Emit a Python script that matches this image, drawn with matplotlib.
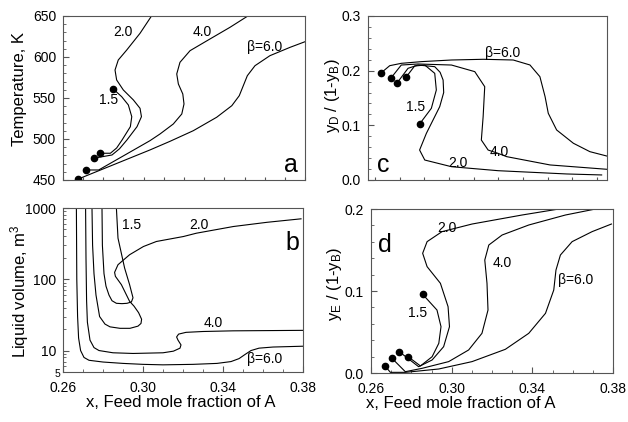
import numpy as np
import matplotlib
matplotlib.use('Agg')
import matplotlib.pyplot as plt
from matplotlib.ticker import MultipleLocator, FixedLocator, LogLocator, NullFormatter, FormatStrFormatter

plt.rcParams['font.family'] = ['Liberation Sans', 'DejaVu Sans']
plt.rcParams['mathtext.fontset'] = 'custom'
plt.rcParams['mathtext.rm'] = 'Liberation Sans'
plt.rcParams['mathtext.it'] = 'Liberation Sans:italic'

# panel a: temperature vs feed fraction
a_x_15 = [0.2785, 0.2835, 0.2866, 0.2893, 0.2934, 0.2941, 0.2924, 0.2891, 0.2849]
a_T_15 = [482.6, 482.6, 489.0, 498.8, 515.0, 527.2, 541.5, 551.6, 561.0]
a_x_20 = [0.2752, 0.2843, 0.2880, 0.2917, 0.2967, 0.2989, 0.2982, 0.2949, 0.2899,
          0.2866, 0.2858, 0.2874, 0.2916, 0.2982, 0.3040]
a_T_20 = [476.5, 480.5, 488.0, 498.8, 515.0, 527.2, 537.4, 547.6, 559.8,
          572.0, 584.1, 596.3, 608.5, 628.9, 650.4]
a_x_40 = [0.2714, 0.2777, 0.3031, 0.3081, 0.3147, 0.3189, 0.3200, 0.3194, 0.3172,
          0.3164, 0.3180, 0.3230, 0.3329, 0.3428, 0.3519]
a_T_40 = [462.2, 462.2, 497.9, 506.1, 518.3, 530.5, 542.7, 554.9, 567.1,
          579.3, 593.5, 607.7, 622.0, 636.2, 650.4]
a_x_60 = [0.2673, 0.3031, 0.3131, 0.3246, 0.3362, 0.3437, 0.3474, 0.3494, 0.3514,
          0.3552, 0.3626, 0.3726, 0.3805]
a_T_60 = [450.9, 486.6, 497.2, 510.1, 526.5, 540.6, 552.8, 565.0, 577.2,
          589.4, 601.6, 611.8, 619.1]

# panel b: liquid volume
b_x_15 = [0.2795, 0.2797, 0.2805, 0.2815, 0.2830, 0.2845, 0.2867, 0.2895, 0.2920,
          0.2942, 0.2950, 0.2933, 0.2908, 0.2875, 0.2867]
b_v_15 = [1000, 300, 120, 80, 60, 50, 46, 45.5, 46, 48, 55, 84, 144, 378, 1000]
b_x_20 = [0.2745, 0.2748, 0.2755, 0.2765, 0.2783, 0.2810, 0.2835, 0.2885, 0.2935,
          0.2975, 0.2990, 0.2993, 0.2978, 0.2955, 0.2933, 0.2892, 0.2862, 0.2858,
          0.2875, 0.2933, 0.3002, 0.3067, 0.3202, 0.3267, 0.3452, 0.3620, 0.3790]
b_v_20 = [1000, 300, 120, 60, 30, 23.5, 21.5, 20.5, 20.5,
          22, 24, 27.5, 34, 42, 49, 84, 110, 125,
          160, 221, 288, 339, 398, 443, 550, 630, 705]
b_x_40 = [0.2713, 0.2715, 0.2718, 0.2722, 0.2735, 0.2755, 0.2780, 0.2850, 0.2950,
          0.3100, 0.3152, 0.3185, 0.3190, 0.3175, 0.3168, 0.3178, 0.3215, 0.3300,
          0.3450, 0.3800]
b_v_40 = [1000, 200, 50, 25, 14, 11, 10, 9.3, 9.1, 9.3, 9.8, 10.8, 12, 14, 15.5,
          17, 18, 18.5, 18.9, 19.2]
b_x_60 = [0.2667, 0.2669, 0.2673, 0.2678, 0.2688, 0.2705, 0.2730, 0.2800, 0.2900,
          0.3000, 0.3100, 0.3250, 0.3370, 0.3440, 0.3480, 0.3510, 0.3540, 0.3580,
          0.3650, 0.3800]
b_v_60 = [1000, 100, 30, 15, 10, 8, 7.3, 6.9, 6.6, 6.4, 6.3, 6.4, 6.6, 7.0, 7.7,
          8.8, 10, 10.8, 11.2, 11.5]

# panel c: yD/(1-yB)
c_x_15 = [0.2793, 0.2834, 0.2885, 0.2935, 0.2943, 0.2918, 0.2859]
c_y_15 = [0.1890, 0.2085, 0.2103, 0.1951, 0.1646, 0.1311, 0.1024]
c_x_20 = [0.2747, 0.2801, 0.2851, 0.2935, 0.2962, 0.2977, 0.2980, 0.2960, 0.2893,
          0.2859, 0.2885, 0.3019, 0.3253, 0.3598, 0.3773]
c_y_20 = [0.1780, 0.2043, 0.2103, 0.2073, 0.1970, 0.1829, 0.1600, 0.1341, 0.0853,
          0.0548, 0.0365, 0.0243, 0.0170, 0.0110, 0.0092]
c_x_40 = [0.2714, 0.2767, 0.2851, 0.3019, 0.3136, 0.3186, 0.3178, 0.3169, 0.3203,
          0.3253, 0.3296, 0.3514, 0.3798]
c_y_40 = [0.1859, 0.2103, 0.2122, 0.2103, 0.1982, 0.1707, 0.1158, 0.0731, 0.0548,
          0.0487, 0.0427, 0.0275, 0.0196]
c_x_60 = [0.2667, 0.2709, 0.2767, 0.2868, 0.3019, 0.3179, 0.3329, 0.3413, 0.3463,
          0.3489, 0.3505, 0.3547, 0.3631, 0.3714, 0.3798]
c_y_60 = [0.1963, 0.2091, 0.2134, 0.2165, 0.2195, 0.2208, 0.2195, 0.2104, 0.1890,
          0.1524, 0.1220, 0.0915, 0.0672, 0.0518, 0.0439]

# panel d: yE/(1-yB)
d_x_15 = [0.2784, 0.2845, 0.2903, 0.2936, 0.2947, 0.2927, 0.2856]
d_y_15 = [0.0199, 0.0086, 0.0199, 0.0362, 0.0565, 0.0768, 0.0960]
d_x_20 = [0.2740, 0.2836, 0.2903, 0.2960, 0.2989, 0.2982, 0.2944, 0.2878, 0.2856,
          0.2878, 0.2952, 0.3101, 0.3349, 0.3531]
d_y_20 = [0.0260, 0.0077, 0.0159, 0.0321, 0.0565, 0.0809, 0.1094, 0.1297, 0.1460,
          0.1602, 0.1724, 0.1817, 0.1927, 0.2000]
d_x_40 = [0.2704, 0.2770, 0.2853, 0.2985, 0.3084, 0.3150, 0.3180, 0.3175, 0.3164,
          0.3184, 0.3250, 0.3382, 0.3564, 0.3729]
d_y_40 = [0.0179, 0.0016, 0.0057, 0.0139, 0.0281, 0.0484, 0.0768, 0.1094, 0.1378,
          0.1561, 0.1683, 0.1805, 0.1927, 0.2008]
d_x_60 = [0.2668, 0.2696, 0.2770, 0.2936, 0.3101, 0.3266, 0.3382, 0.3465, 0.3506,
          0.3517, 0.3539, 0.3597, 0.3696, 0.3792]
d_y_60 = [0.0090, 0.0008, 0.0008, 0.0049, 0.0139, 0.0289, 0.0484, 0.0728, 0.1012,
          0.1256, 0.1439, 0.1602, 0.1724, 0.1817]

curve_names = ['1.5', '2.0', '4.0', 'β=6.0']
a_lab = [(0.2828, 547.6), (0.2898, 631), (0.3292, 631), (0.3602, 612.6)]
b_lab = [(0.2943, 580), (0.3280, 580), (0.3352, 24.7), (0.3610, 7.6)]
c_lab = [(0.2841, 0.1336), (0.3049, 0.0306), (0.3258, 0.0518), (0.3278, 0.2329)]
d_lab = [(0.2831, 0.0728), (0.2977, 0.1765), (0.3253, 0.1346), (0.3613, 0.1134)]

xlabel = 'x, Feed mole fraction of A'
lw = 0.8
fig = plt.figure(figsize=(6.28, 4.22), dpi=100)
ax_a = fig.add_axes([0.1003, 0.5735, 0.3854, 0.3886])
ax_b = fig.add_axes([0.1003, 0.1185, 0.3822, 0.3886])
ax_c = fig.add_axes([0.5860, 0.5735, 0.3806, 0.3886])
ax_d = fig.add_axes([0.5908, 0.1161, 0.3854, 0.3886])


def style(ax):
    for s in ax.spines.values():
        s.set_color('#555555')
        s.set_linewidth(0.8)
    ax.tick_params(which='both', direction='in', top=False, right=False,
                   labelsize=10, color='#555555', pad=5)
    ax.tick_params(axis='x', pad=6.5)
    ax.tick_params(which='major', length=4)
    ax.tick_params(which='minor', length=2)


def draw(ax, series, labels, dots_top=False):
    for (x, y) in series:
        ax.plot(x, y, color='black', lw=lw)
        ax.plot(x[0], y[0], 'o', color='black', ms=4.5)
    if dots_top:
        x, y = series[0]
        ax.plot(x[-1], y[-1], 'o', color='black', ms=4.5)
    for name, (lx, ly) in zip(curve_names, labels):
        ax.text(lx, ly, name, fontsize=10, ha='center', va='center')


# a
draw(ax_a, [(a_x_15, a_T_15), (a_x_20, a_T_20), (a_x_40, a_T_40), (a_x_60, a_T_60)],
     a_lab, dots_top=True)
ax_a.set_xlim(0.26, 0.38)
ax_a.set_ylim(450, 650)
style(ax_a)
ax_a.xaxis.set_major_locator(MultipleLocator(0.01))
ax_a.tick_params(axis='x', labelbottom=False)
ax_a.tick_params(axis='x', which='major', length=2)
ax_a.yaxis.set_major_locator(MultipleLocator(50))
ax_a.yaxis.set_minor_locator(MultipleLocator(10))
ax_a.set_ylabel('Temperature, K', fontsize=12)
ax_a.yaxis.set_label_coords(-0.18, 0.555)
ax_a.yaxis.label.set_va('center')
ax_a.text(0.942, 0.091, 'a', transform=ax_a.transAxes, fontsize=18, ha='center', va='center')

# b
for (x, y) in [(b_x_15, b_v_15), (b_x_20, b_v_20), (b_x_40, b_v_40), (b_x_60, b_v_60)]:
    ax_b.plot(x, y, color='black', lw=lw)
for name, (lx, ly) in zip(curve_names, b_lab):
    ax_b.text(lx, ly, name, fontsize=10, ha='center', va='center')
ax_b.set_yscale('log')
ax_b.set_xlim(0.26, 0.38)
ax_b.set_ylim(5, 1000)
style(ax_b)
ax_b.set_xticks([0.26, 0.30, 0.34, 0.38])
ax_b.xaxis.set_major_formatter(FormatStrFormatter('%.2f'))
ax_b.xaxis.set_minor_locator(MultipleLocator(0.01))
ax_b.set_yticks([10, 100, 1000])
ax_b.set_yticklabels(['10', '100', '1000'])
ax_b.yaxis.set_minor_locator(LogLocator(subs=np.arange(2, 10)))
ax_b.yaxis.set_minor_formatter(NullFormatter())
ax_b.text(-0.012, -0.012, '5', transform=ax_b.transAxes, fontsize=7.5, ha='right', va='center')
ax_b.set_ylabel('Liquid volume, m$^3$', fontsize=12)
ax_b.yaxis.set_label_coords(-0.18, 0.494)
ax_b.yaxis.label.set_va('center')
ax_b.set_xlabel(xlabel, fontsize=12)
ax_b.xaxis.set_label_coords(0.49, -0.189)
ax_b.xaxis.label.set_va('center')
ax_b.text(0.956, 0.787, 'b', transform=ax_b.transAxes, fontsize=18, ha='center', va='center')

# c
draw(ax_c, [(c_x_15, c_y_15), (c_x_20, c_y_20), (c_x_40, c_y_40), (c_x_60, c_y_60)],
     c_lab, dots_top=True)
ax_c.set_xlim(0.26, 0.38)
ax_c.set_ylim(0.0, 0.3)
style(ax_c)
ax_c.xaxis.set_major_locator(FixedLocator(np.linspace(0.2635, 0.375, 10)))
ax_c.tick_params(axis='x', labelbottom=False)
ax_c.tick_params(axis='x', which='major', length=2)
ax_c.yaxis.set_major_locator(MultipleLocator(0.1))
ax_c.yaxis.set_minor_locator(MultipleLocator(0.02))
ax_c.yaxis.set_major_formatter(FormatStrFormatter('%.1f'))
ax_c.set_ylabel('y$_\\mathrm{D}$ / (1-y$_\\mathrm{B}$)', fontsize=12)
ax_c.yaxis.set_label_coords(-0.15, 0.512)
ax_c.yaxis.label.set_va('center')
ax_c.text(0.063, 0.091, 'c', transform=ax_c.transAxes, fontsize=18, ha='center', va='center')

# d
draw(ax_d, [(d_x_15, d_y_15), (d_x_20, d_y_20), (d_x_40, d_y_40), (d_x_60, d_y_60)],
     d_lab, dots_top=True)
ax_d.set_xlim(0.26, 0.38)
ax_d.set_ylim(0.0, 0.2)
style(ax_d)
ax_d.set_xticks([0.26, 0.30, 0.34, 0.38])
ax_d.xaxis.set_major_formatter(FormatStrFormatter('%.2f'))
ax_d.xaxis.set_minor_locator(MultipleLocator(0.01))
ax_d.yaxis.set_major_locator(MultipleLocator(0.1))
ax_d.yaxis.set_minor_locator(MultipleLocator(0.02))
ax_d.yaxis.set_major_formatter(FormatStrFormatter('%.1f'))
ax_d.set_ylabel('y$_\\mathrm{E}$ / (1-y$_\\mathrm{B}$)', fontsize=12)
ax_d.yaxis.set_label_coords(-0.149, 0.546)
ax_d.yaxis.label.set_va('center')
ax_d.set_xlabel(xlabel, fontsize=12)
ax_d.xaxis.set_label_coords(0.37, -0.183)
ax_d.xaxis.label.set_va('center')
ax_d.text(0.056, 0.78, 'd', transform=ax_d.transAxes, fontsize=18, ha='center', va='center')

fig.savefig('out.png', dpi=100)
